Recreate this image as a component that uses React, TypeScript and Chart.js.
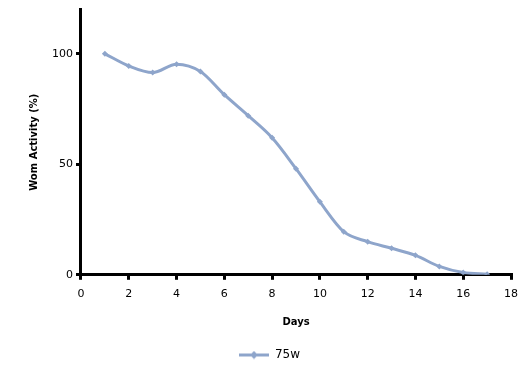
import React, { useEffect, useRef } from "react";
import { Chart, registerables } from "chart.js";

Chart.register(...registerables);

const days = [1, 2, 3, 4, 5, 6, 7, 8, 9, 10, 11, 12, 13, 14, 15, 16, 17];
const activity = [100, 94.5, 91.5, 95.3, 92, 81.5, 72, 62, 48, 33, 19.5, 15, 12, 8.8, 3.8, 1.0, 0.3];
const seriesName = "75w";
const xTitle = "Days";
const yTitle = "Wom Activity (%)";

const COLOR = "#8EA5CB";

function makeLegendIcon(): HTMLCanvasElement {
  const c = document.createElement("canvas");
  c.width = 30;
  c.height = 9;
  const ctx = c.getContext("2d")!;
  ctx.strokeStyle = COLOR;
  ctx.lineWidth = 3;
  ctx.beginPath();
  ctx.moveTo(0, 4.5);
  ctx.lineTo(30, 4.5);
  ctx.stroke();
  ctx.fillStyle = COLOR;
  ctx.beginPath();
  ctx.moveTo(15, 0.5);
  ctx.lineTo(19, 4.5);
  ctx.lineTo(15, 8.5);
  ctx.lineTo(11, 4.5);
  ctx.closePath();
  ctx.fill();
  return c;
}

export default function App() {
  const ref = useRef<HTMLCanvasElement>(null);
  useEffect(() => {
    if (!ref.current) return;
    const icon = makeLegendIcon();
    const font = { family: "'DejaVu Sans', Verdana, sans-serif", size: 11 };
    const chart = new Chart(ref.current, {
      type: "line",
      data: {
        datasets: [
          {
            label: seriesName,
            data: days.map((d, i) => ({ x: d, y: activity[i] })),
            borderColor: COLOR,
            backgroundColor: COLOR,
            borderWidth: 3,
            pointStyle: "rectRot",
            pointRadius: 3,
            pointBorderWidth: 0,
            cubicInterpolationMode: "monotone",
          },
        ],
      },
      options: {
        animation: false,
        responsive: false,
        maintainAspectRatio: false,
        layout: { padding: { left: 28, right: 18, top: 8, bottom: 7 } },
        plugins: {
          tooltip: { enabled: false },
          legend: {
            position: "bottom",
            labels: {
              usePointStyle: true,
              pointStyle: icon as any,
              pointStyleWidth: 30,
              boxHeight: 9,
              color: "#000",
              font: { family: "'DejaVu Sans', Verdana, sans-serif", size: 12 },
              padding: 10,
            },
          },
        },
        scales: {
          x: {
            type: "linear",
            min: 0,
            max: 18,
            ticks: { stepSize: 2, color: "#000", font, padding: 8, maxRotation: 0 },
            grid: { drawOnChartArea: false, drawTicks: true, tickLength: 5, lineWidth: 3, color: "#000" },
            border: { width: 3, color: "#000" },
            title: { display: true, text: xTitle, color: "#000", font: { ...font, size: 10, weight: "bold" }, padding: { top: 7, bottom: 11 } },
          },
          y: {
            type: "linear",
            min: 0,
            max: 120,
            ticks: { stepSize: 50, includeBounds: false, color: "#000", font, padding: 3 },
            grid: { drawOnChartArea: false, drawTicks: true, tickLength: 5, lineWidth: 3, color: "#000" },
            border: { width: 3, color: "#000" },
            title: { display: true, text: yTitle, color: "#000", font: { ...font, size: 10, weight: "bold" }, padding: { top: 0, bottom: 9 } },
          },
        },
      },
    });
    return () => chart.destroy();
  }, []);
  return (
    <div style={{ position: "fixed", left: 0, top: 0, width: 529, height: 378, background: "#fff" }}>
      <canvas ref={ref} width={529} height={378} style={{ width: 529, height: 378 }} />
    </div>
  );
}
